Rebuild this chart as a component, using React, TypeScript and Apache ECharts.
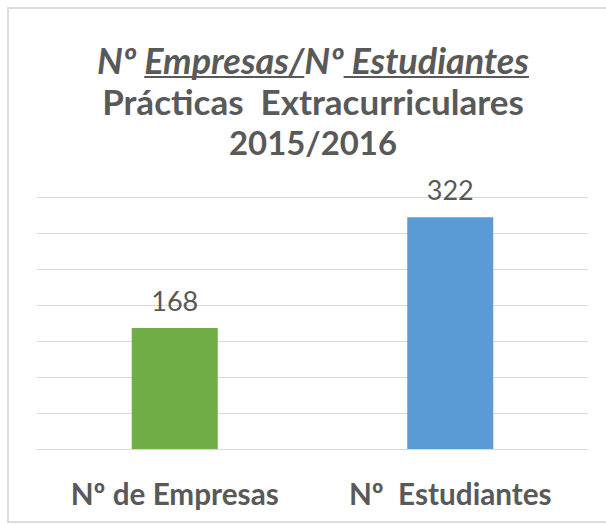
import React, { useEffect, useRef } from "react";
import * as echarts from "echarts";

const categories = ["Nº de Empresas", "Nº  Estudiantes"];
const values = [168, 322];
const barColors = ["#70AD47", "#5B9BD5"];
const yMax = 350;
const yInterval = 50;
const titleParts = [
  { text: "Nº ", underline: false },
  { text: "Empresas/", underline: true },
  { text: "Nº", underline: false },
  { text: " Estudiantes", underline: true },
];
const titleLine2 = "Prácticas  Extracurriculares";
const titleLine3 = "2015/2016";

const FAMILY = "Lato";
const TEXT_COLOR = "#595959";
const GRID_COLOR = "#D9D9D9";

function measure(text: string, size: number, weight: string, style: string) {
  const c = document.createElement("canvas");
  const ctx = c.getContext("2d")!;
  ctx.font = `${style} ${weight} ${size}px ${FAMILY}`;
  return ctx.measureText(text).width;
}
function fit(text: string, target: number, weight: string, style: string) {
  const w = measure(text, 100, weight, style);
  return Math.round(((100 * target) / w) * 10) / 10;
}

export default function App() {
  const ref = useRef<HTMLDivElement>(null);
  useEffect(() => {
    if (!ref.current) return;
    const chart = echarts.init(ref.current, null, { renderer: "svg" });

    const cx = 313;
    const full1 = titleParts.map((p) => p.text).join("");
    const s1 = fit(full1, 432, "bold", "italic");
    const s2 = fit(titleLine2, 422, "bold", "normal");
    const s3 = fit(titleLine3, 168, "bold", "normal");
    const sAxis = fit(categories[0], 208, "bold", "normal");
    const sLabel = fit("168", 47, "normal", "normal");

    const total1 = measure(full1, s1, "bold", "italic");
    let x = cx - total1 / 2;
    const graphics: any[] = [
      {
        type: "rect",
        shape: { x: 8, y: 8, width: 700, height: 514 },
        style: { fill: "none", stroke: "#DCDCDC", lineWidth: 2 },
        silent: true,
      },
    ];
    titleParts.forEach((p) => {
      const w = measure(p.text, s1, "bold", "italic");
      graphics.push({
        type: "text",
        x,
        y: 60,
        style: {
          text: p.text,
          fontFamily: FAMILY,
          fontSize: s1,
          fontWeight: "bold",
          fontStyle: "italic",
          fill: TEXT_COLOR,
          textAlign: "left",
          textVerticalAlign: "middle",
        },
      });
      if (p.underline) {
        graphics.push({
          type: "line",
          shape: { x1: x, y1: 77, x2: x + w, y2: 77 },
          style: { stroke: TEXT_COLOR, lineWidth: 2 },
        });
      }
      x += w;
    });
    graphics.push(
      {
        type: "text",
        x: cx,
        y: 101,
        style: {
          text: titleLine2,
          fontFamily: FAMILY,
          fontSize: s2,
          fontWeight: "bold",
          fill: TEXT_COLOR,
          textAlign: "center",
          textVerticalAlign: "middle",
        },
      },
      {
        type: "text",
        x: cx,
        y: 142,
        style: {
          text: titleLine3,
          fontFamily: FAMILY,
          fontSize: s3,
          fontWeight: "bold",
          fill: TEXT_COLOR,
          textAlign: "center",
          textVerticalAlign: "middle",
        },
      }
    );

    chart.setOption({
      animation: false,
      backgroundColor: "#ffffff",
      graphic: graphics,
      grid: { left: 37, right: 18, top: 197, bottom: 75 },
      xAxis: {
        type: "category",
        data: categories,
        axisLine: { show: true, lineStyle: { color: GRID_COLOR, width: 1 } },
        axisTick: { show: false },
        axisLabel: {
          color: TEXT_COLOR,
          fontFamily: FAMILY,
          fontWeight: "bold",
          fontSize: sAxis,
          lineHeight: sAxis,
          margin: 44 - sAxis / 2,
        },
      },
      yAxis: {
        type: "value",
        min: 0,
        max: yMax,
        interval: yInterval,
        axisLabel: { show: false },
        axisLine: { show: false },
        axisTick: { show: false },
        splitLine: { lineStyle: { color: GRID_COLOR, width: 1 } },
      },
      series: [
        {
          type: "bar",
          barWidth: 86,
          data: values.map((v, i) => ({ value: v, itemStyle: { color: barColors[i] } })),
          label: {
            show: true,
            position: "top",
            distance: 28 - sLabel / 2,
            color: TEXT_COLOR,
            fontFamily: FAMILY,
            fontSize: sLabel,
            lineHeight: sLabel,
          },
        },
      ],
    });
    return () => chart.dispose();
  }, []);
  return (
    <div
      ref={ref}
      style={{ position: "absolute", left: 0, top: 0, width: 606, height: 524 }}
    />
  );
}
